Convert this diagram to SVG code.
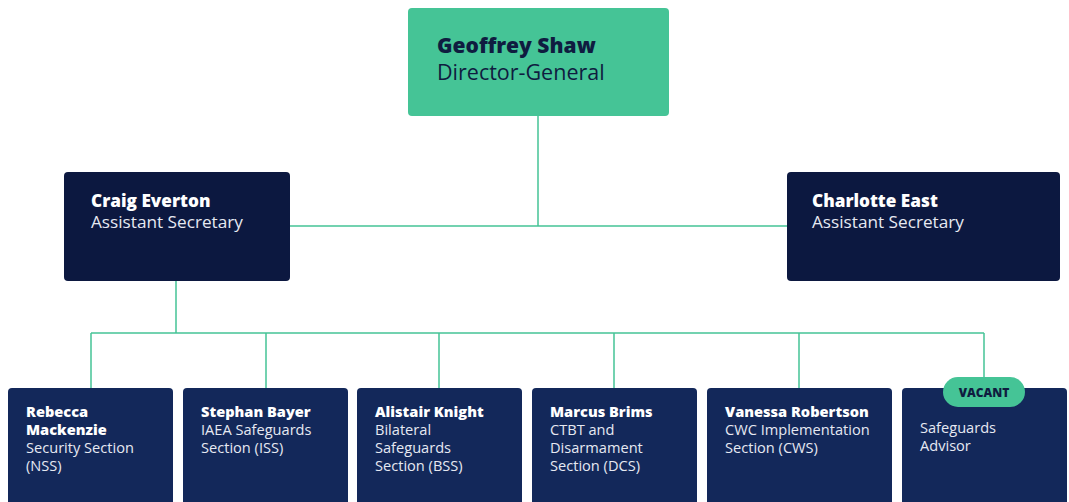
<svg xmlns="http://www.w3.org/2000/svg" width="1069" height="502" viewBox="0 0 1069 502">
<style>
.bg{fill:#ffffff}
.dg{fill:#45c496}
.mid{fill:#0c1840}
.low{fill:#13285a}
.c{fill:none;stroke:#45c496;stroke-width:1.5}
text{font-family:"Open Sans","Noto Sans","Liberation Sans",sans-serif}
.n1{font-size:21px;font-weight:800;fill:#0f1c40}
.t1{font-size:21.5px;fill:#0f1c40}
.n2{font-size:17.2px;font-weight:800;fill:#ffffff}
.t2{font-size:17.2px;fill:#e6e9f2}
.n3{font-size:14.6px;font-weight:800;fill:#ffffff}
.t3{font-size:14.6px;fill:#e6e9f2}
.vac{font-size:12px;font-weight:800;fill:#0f1c40}
</style>
<rect class="bg" width="1069" height="502"/>
<g id="connectors">
<path class="c" d="M538 116V226M290 226H787"/>
<path class="c" d="M176 281V333M91 333H984"/>
<path class="c" d="M91 333V388M266 333V388M439 333V388M614 333V388M799 333V388M984 333V378"/>
</g>
<g id="geoffrey">
<rect class="dg" x="408" y="8" width="261" height="108" rx="4"/>
<text class="n1" x="437" y="53">Geoffrey Shaw</text>
<text class="t1" x="437" y="80">Director-General</text>
</g>
<g id="craig">
<rect class="mid" x="64" y="172" width="226" height="109" rx="4"/>
<text class="n2" x="91" y="207">Craig Everton</text>
<text class="t2" x="91" y="228">Assistant Secretary</text>
</g>
<g id="charlotte">
<rect class="mid" x="787" y="172" width="273" height="109" rx="4"/>
<text class="n2" x="812" y="207">Charlotte East</text>
<text class="t2" x="812" y="228">Assistant Secretary</text>
</g>
<g id="rebecca">
<rect class="low" x="8" y="388" width="165" height="130" rx="4"/>
<text class="n3" x="26" y="417">Rebecca</text>
<text class="n3" x="26" y="435">Mackenzie</text>
<text class="t3" x="26" y="453">Security Section</text>
<text class="t3" x="26" y="471">(NSS)</text>
</g>
<g id="stephan">
<rect class="low" x="183" y="388" width="165" height="130" rx="4"/>
<text class="n3" x="201" y="417">Stephan Bayer</text>
<text class="t3" x="201" y="435">IAEA Safeguards</text>
<text class="t3" x="201" y="453">Section (ISS)</text>
</g>
<g id="alistair">
<rect class="low" x="357" y="388" width="165" height="130" rx="4"/>
<text class="n3" x="375" y="417">Alistair Knight</text>
<text class="t3" x="375" y="435">Bilateral</text>
<text class="t3" x="375" y="453">Safeguards</text>
<text class="t3" x="375" y="471">Section (BSS)</text>
</g>
<g id="marcus">
<rect class="low" x="532" y="388" width="165" height="130" rx="4"/>
<text class="n3" x="550" y="417">Marcus Brims</text>
<text class="t3" x="550" y="435">CTBT and</text>
<text class="t3" x="550" y="453">Disarmament</text>
<text class="t3" x="550" y="471">Section (DCS)</text>
</g>
<g id="vanessa">
<rect class="low" x="707" y="388" width="185" height="130" rx="4"/>
<text class="n3" x="725" y="417">Vanessa Robertson</text>
<text class="t3" x="725" y="435">CWC Implementation</text>
<text class="t3" x="725" y="453">Section (CWS)</text>
</g>
<g id="vacant">
<rect class="low" x="902" y="388" width="165" height="130" rx="4"/>
<rect class="dg" x="943" y="377" width="82" height="30" rx="15"/>
<text class="vac" x="984" y="397" text-anchor="middle">VACANT</text>
<text class="t3" x="920" y="433">Safeguards</text>
<text class="t3" x="920" y="451">Advisor</text>
</g>
</svg>
